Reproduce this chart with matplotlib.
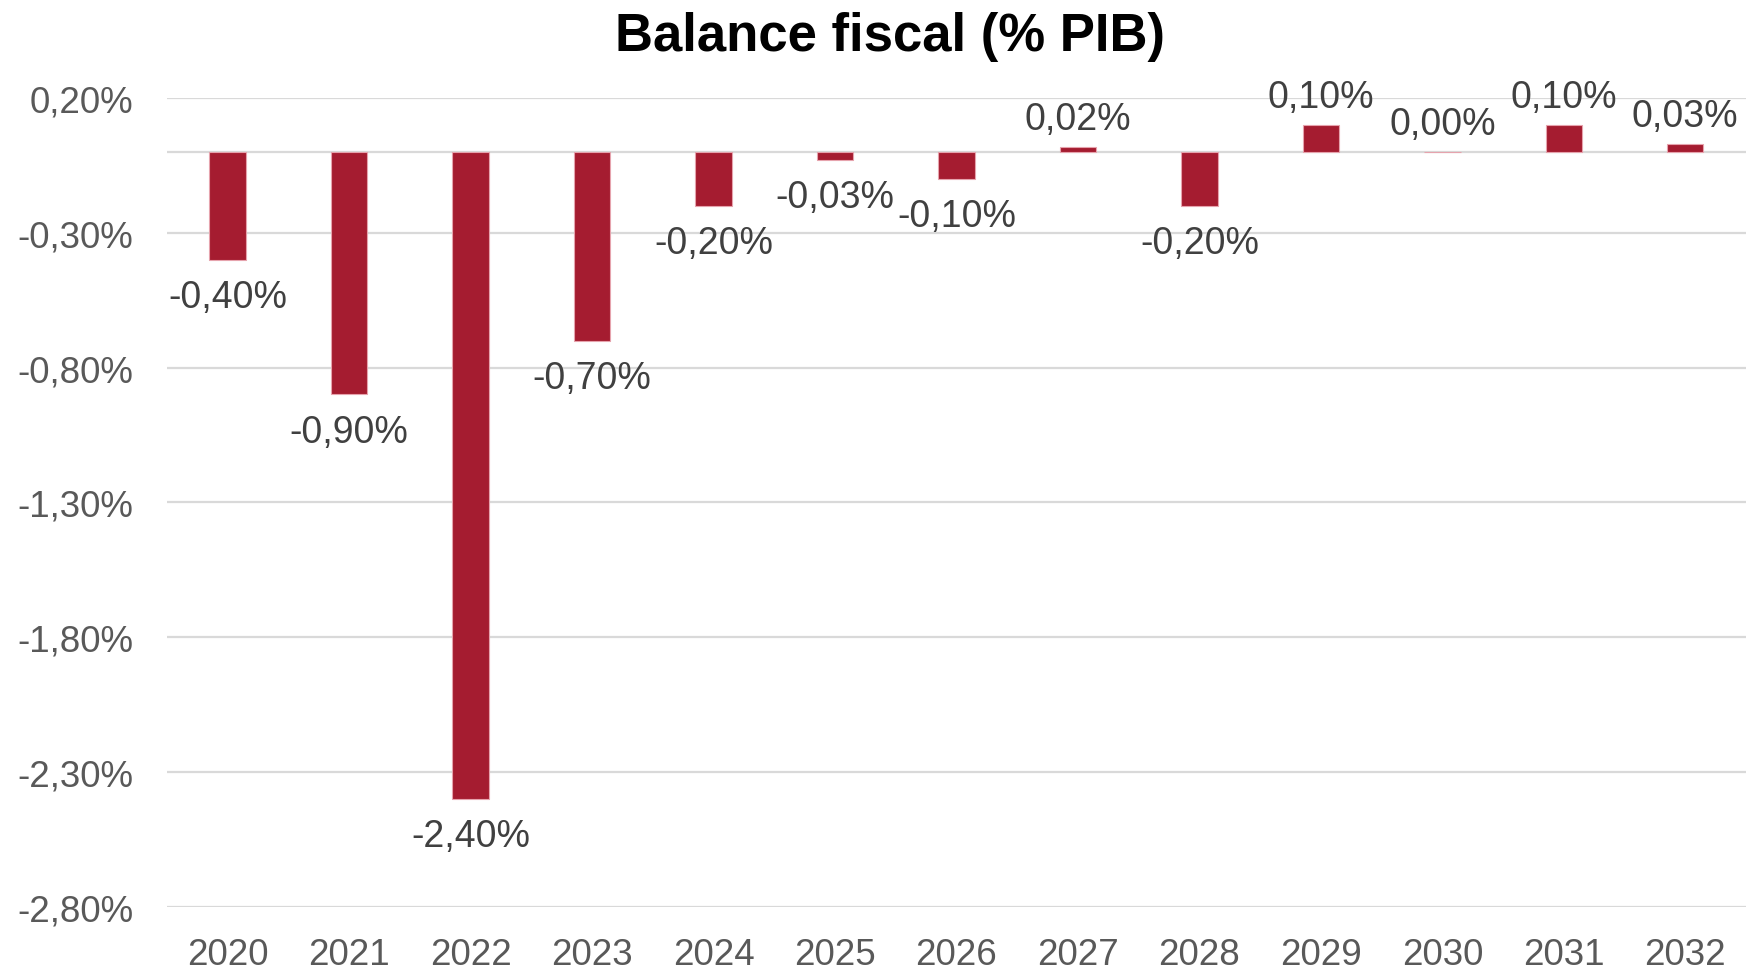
import matplotlib.pyplot as plt
import numpy as np

# data
years = ["2020", "2021", "2022", "2023", "2024", "2025", "2026",
         "2027", "2028", "2029", "2030", "2031", "2032"]
balance = [-0.40, -0.90, -2.40, -0.70, -0.20, -0.03, -0.10,
           0.02, -0.20, 0.10, 0.00, 0.10, 0.03]
yticks = [0.20, -0.30, -0.80, -1.30, -1.80, -2.30, -2.80]


def pct(v):
    return f"{v:.2f}%".replace(".", ",")


plt.rcParams['font.family'] = ['Liberation Sans', 'DejaVu Sans']

fig = plt.figure(figsize=(17.46, 9.7), dpi=100)
ax = fig.add_axes([0.0956, 0.0644, 0.9044, 0.8335])

x = np.arange(len(years))
bars = ax.bar(x, balance, width=0.30, color='#A51C30',
              edgecolor='#E6A3AD', linewidth=0.8, zorder=3)

ax.set_xlim(-0.5, len(years) - 0.5)
ax.set_ylim(-2.8, 0.2)
ax.set_yticks(yticks)
ax.set_yticklabels([pct(v) for v in yticks])
ax.set_xticks(x)
ax.set_xticklabels(years)

ax.grid(True, axis='y', color='#D9D9D9', linewidth=1.6, zorder=0)
ax.axhline(0, color='#D9D9D9', linewidth=1.6, zorder=1)
for s in ax.spines.values():
    s.set_visible(False)
ax.tick_params(axis='both', length=0, labelsize=26.5, labelcolor='#595959')
ax.tick_params(axis='y', pad=24)
ax.tick_params(axis='x', pad=22)

# value labels
for xi, v in zip(x, balance):
    if v < 0:
        ax.annotate(pct(v), (xi, v), xytext=(0, -14), textcoords='offset points',
                    ha='center', va='top', fontsize=27, color='#404040',
                    annotation_clip=False)
    else:
        ax.annotate(pct(v), (xi, v), xytext=(0, 7), textcoords='offset points',
                    ha='center', va='bottom', fontsize=27, color='#404040',
                    annotation_clip=False)

fig.text(0.5096, 0.962, "Balance fiscal (% PIB)", ha='center', va='center',
         fontsize=38, fontweight='bold', color='black')

fig.savefig("out.png", dpi=100)
